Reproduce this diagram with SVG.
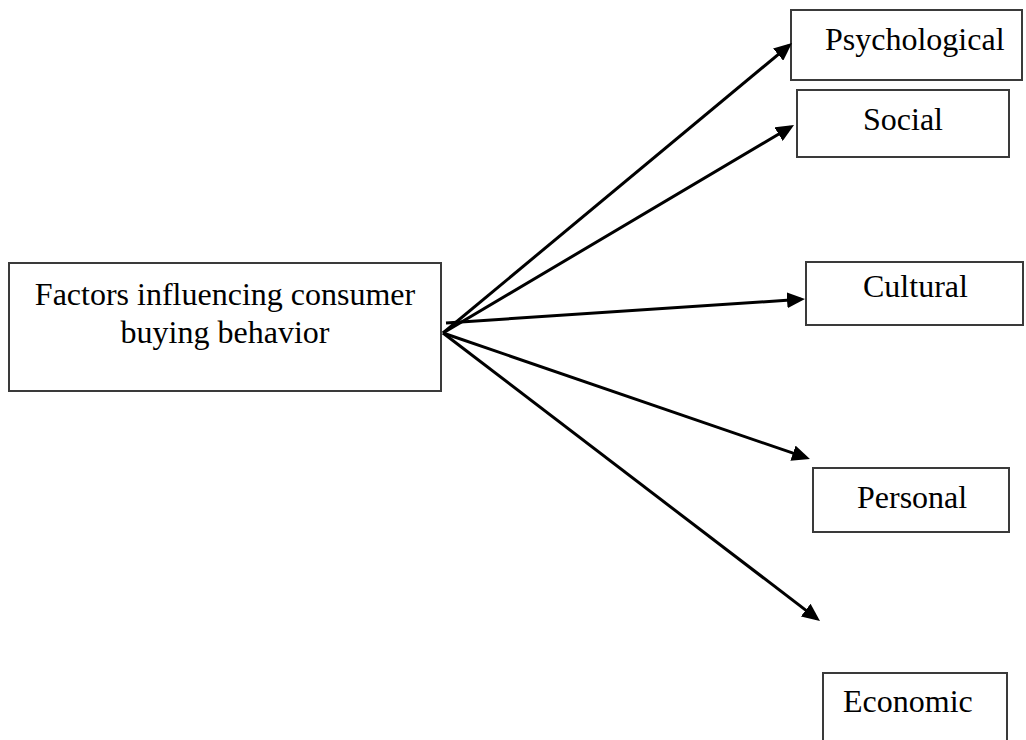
<svg xmlns="http://www.w3.org/2000/svg" width="1026" height="740" viewBox="0 0 1026 740">
  <style>
    .box { fill: #ffffff; stroke: #3a3a3a; stroke-width: 2; }
    .label { font-family: "Liberation Serif", "Times New Roman", serif; font-size: 32px; fill: #000000; }
    .link { stroke: #000000; stroke-width: 3; fill: none; marker-end: url(#head); }
  </style>
  <defs>
    <marker id="head" markerUnits="userSpaceOnUse" markerWidth="18" markerHeight="16" refX="14" refY="8" orient="auto">
      <path d="M0,0 L18,8 L0,16 z" fill="#000000"/>
    </marker>
  </defs>
  <rect width="1026" height="740" fill="#ffffff"/>

  <!-- central node -->
  <g id="factors">
    <rect class="box" x="9" y="263" width="432" height="128"/>
    <text class="label" x="225" y="305" text-anchor="middle">Factors influencing consumer</text>
    <text class="label" x="225" y="343" text-anchor="middle">buying behavior</text>
  </g>

  <!-- factor nodes -->
  <g id="psychological">
    <rect class="box" x="791" y="10" width="231" height="70"/>
    <text class="label" x="825" y="50">Psychological</text>
  </g>
  <g id="social">
    <rect class="box" x="797" y="90" width="212" height="67"/>
    <text class="label" x="863" y="130">Social</text>
  </g>
  <g id="cultural">
    <rect class="box" x="806" y="262" width="217" height="63"/>
    <text class="label" x="863" y="297">Cultural</text>
  </g>
  <g id="personal">
    <rect class="box" x="813" y="468" width="196" height="64"/>
    <text class="label" x="857" y="508">Personal</text>
  </g>
  <g id="economic">
    <rect class="box" x="823" y="673" width="184" height="80"/>
    <text class="label" x="843" y="712">Economic</text>
  </g>

  <!-- connectors -->
  <g id="connectors">
    <line class="link" x1="443" y1="333" x2="788.9" y2="45.6"/>
    <line class="link" x1="443" y1="333" x2="790.6" y2="127.0"/>
    <line class="link" x1="446" y1="323" x2="801.0" y2="299.3"/>
    <line class="link" x1="443" y1="333" x2="806.2" y2="457.7"/>
    <line class="link" x1="443" y1="333" x2="816.8" y2="618.6"/>
  </g>
</svg>
